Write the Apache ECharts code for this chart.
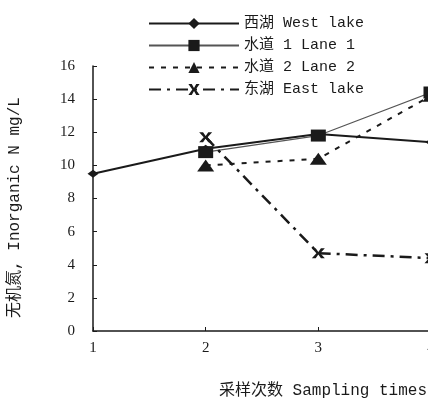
<!DOCTYPE html>
<html><head><meta charset="utf-8">
<script src="https://cdn.jsdelivr.net/npm/echarts@6/dist/echarts.min.js"></script>
<style>html,body{margin:0;padding:0;background:#fff}#c{width:428px;height:403px}</style>
</head><body><div id="c"></div>
<script>
const categories = ['1', '2', '3', '4'];
const seriesNames = ['西湖 West lake', '水道 1 Lane 1', '水道 2 Lane 2', '东湖 East lake'];
const westLake = [9.5, 11.0, 11.9, 11.4];
const lane1 = ['-', 10.8, 11.8, 14.4];
const lane2 = ['-', 10.0, 10.4, 14.2];
const eastLake = ['-', 11.7, 4.7, 4.4];
const yTicks = [0, 2, 4, 6, 8, 10, 12, 14, 16];

const FONT = '"Liberation Mono", "Noto Sans CJK SC", monospace';
const INK = '#1a1a1a';
const crossPath = 'path://M0,0 L3,0 L5,3 L7,0 L10,0 L6.5,4 L10,8 L7,8 L5,5 L3,8 L0,8 L3.5,4 Z';

const chart = echarts.init(document.getElementById('c'));
chart.setOption({
  animation: false,
  backgroundColor: '#fff',
  textStyle: { fontFamily: FONT, color: INK },
  legend: {
    orient: 'vertical', left: 143, top: 11,
    itemWidth: 90, itemHeight: 14, itemGap: 7,
    textStyle: { fontFamily: FONT, fontSize: 15, color: INK },
    data: seriesNames
  },
  grid: { left: 93, width: 338, top: 66, bottom: 72, outerBoundsMode: 'none', containLabel: false },
  xAxis: {
    type: 'category', data: categories, boundaryGap: false,
    name: '采样次数 Sampling times', nameLocation: 'middle', nameGap: 52,
    nameTextStyle: { fontFamily: FONT, fontSize: 16, color: INK, padding: [0, 0, 0, 122] },
    axisLine: { lineStyle: { color: INK, width: 1.5 } },
    axisTick: { inside: true, length: 4, lineStyle: { color: INK } },
    axisLabel: { fontFamily: 'Liberation Serif', fontSize: 15, color: INK, margin: 10 },
    splitLine: { show: false }
  },
  yAxis: {
    type: 'value', min: yTicks[0], max: yTicks[yTicks.length - 1], interval: 2,
    name: '无机氮, Inorganic N mg/L', nameLocation: 'middle', nameGap: 70, nameRotate: 90,
    nameTextStyle: { fontFamily: FONT, fontSize: 16, color: INK, padding: [0, 18, 0, 0] },
    axisLine: { show: true, lineStyle: { color: INK, width: 1.5 } },
    axisTick: { show: true, inside: true, length: 4, lineStyle: { color: INK } },
    axisLabel: { fontFamily: 'Liberation Serif', fontSize: 15, color: INK, margin: 18 },
    splitLine: { show: false }
  },
  series: [
    { name: seriesNames[0], type: 'line', data: westLake, symbol: 'diamond', symbolSize: [11, 8],
      itemStyle: { color: INK }, lineStyle: { color: INK, width: 2 } , z: 2},
    { name: seriesNames[1], type: 'line', data: lane1, symbol: 'rect', symbolSize: [15, 12],
      itemStyle: { color: INK }, lineStyle: { color: '#555', width: 1.2 }, z: 3 },
    { name: seriesNames[2], type: 'line', data: lane2, symbol: 'triangle', symbolSize: [17, 12],
      itemStyle: { color: INK }, lineStyle: { color: INK, width: 2, type: [5, 7] }, z: 3 },
    { name: seriesNames[3], type: 'line', data: eastLake, symbol: crossPath, symbolSize: [13, 10],
      itemStyle: { color: INK }, lineStyle: { color: INK, width: 2.5, type: [12, 6, 3, 6] }, z: 4 }
  ]
});
</script></body></html>
